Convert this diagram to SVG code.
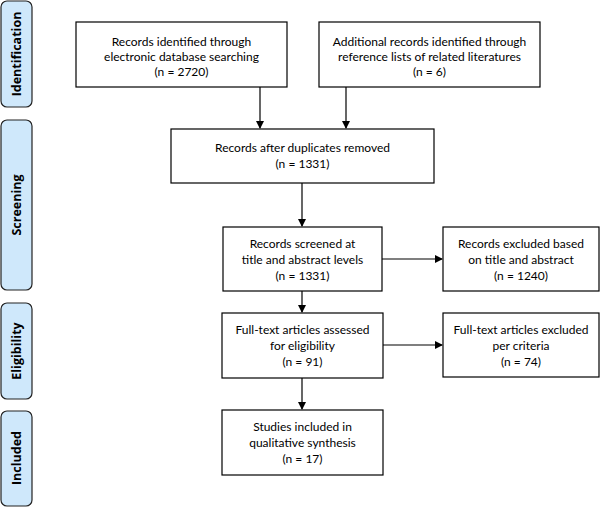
<svg xmlns="http://www.w3.org/2000/svg" width="601" height="507" viewBox="0 0 601 507">
<defs>
<marker id="ah" markerWidth="8" markerHeight="8" refX="7" refY="4" orient="auto" markerUnits="userSpaceOnUse">
<path d="M0,0 L8,4 L0,8 Z" fill="#000"/>
</marker>
<style>
.box{fill:#fff;stroke:#000;stroke-width:1.2}
.side{fill:#cfe8fb;stroke:#222;stroke-width:1.2}
.t{font-family:Lato,"Open Sans",sans-serif;font-size:12px;text-anchor:middle;fill:#000}
.s{font-family:"Open Sans","Noto Sans",sans-serif;font-size:12.5px;font-weight:bold;text-anchor:middle;fill:#000}
.c{stroke:#000;stroke-width:1.2;fill:none;marker-end:url(#ah)}
</style>
</defs>
<rect width="601" height="507" fill="#fff"/>
<g id="stage-identification"><rect class="side" x="1" y="1" width="31" height="106" rx="6"/><text class="s" transform="translate(21,54) rotate(-90)">Identification</text></g>
<g id="stage-screening"><rect class="side" x="1" y="120" width="31" height="170" rx="6"/><text class="s" transform="translate(21,205) rotate(-90)">Screening</text></g>
<g id="stage-eligibility"><rect class="side" x="1" y="303" width="31" height="96" rx="6"/><text class="s" transform="translate(21,351) rotate(-90)">Eligibility</text></g>
<g id="stage-included"><rect class="side" x="1" y="411" width="31" height="95" rx="6"/><text class="s" transform="translate(21,458) rotate(-90)">Included</text></g>
<g id="n1"><rect class="box" x="76" y="22" width="211" height="65"/><text class="t" x="181.5" y="46">Records identified through</text><text class="t" x="181.5" y="61">electronic database searching</text><text class="t" x="181.5" y="76">(n = 2720)</text></g>
<g id="n2"><rect class="box" x="319" y="22" width="221" height="65"/><text class="t" x="429.5" y="46">Additional records identified through</text><text class="t" x="429.5" y="61">reference lists of related literatures</text><text class="t" x="429.5" y="76">(n = 6)</text></g>
<g id="n3"><rect class="box" x="171" y="129" width="263" height="54"/><text class="t" x="302.5" y="152">Records after duplicates removed</text><text class="t" x="302.5" y="168">(n = 1331)</text></g>
<g id="n4"><rect class="box" x="223" y="227" width="159" height="64"/><text class="t" x="302.5" y="248">Records screened at</text><text class="t" x="302.5" y="264">title and abstract levels</text><text class="t" x="302.5" y="280">(n = 1331)</text></g>
<g id="n5"><rect class="box" x="443" y="227" width="156" height="64"/><text class="t" x="521" y="248">Records excluded based</text><text class="t" x="521" y="264">on title and abstract</text><text class="t" x="521" y="280">(n = 1240)</text></g>
<g id="n6"><rect class="box" x="222" y="313" width="161" height="65"/><text class="t" x="302.5" y="334">Full-text articles assessed</text><text class="t" x="302.5" y="350">for eligibility</text><text class="t" x="302.5" y="366">(n = 91)</text></g>
<g id="n7"><rect class="box" x="443" y="313" width="156" height="64"/><text class="t" x="521" y="334">Full-text articles excluded</text><text class="t" x="521" y="350">per criteria</text><text class="t" x="521" y="366">(n = 74)</text></g>
<g id="n8"><rect class="box" x="222" y="410" width="161" height="65"/><text class="t" x="302.5" y="431">Studies included in</text><text class="t" x="302.5" y="447">qualitative synthesis</text><text class="t" x="302.5" y="463">(n = 17)</text></g>
<g id="connectors">
<line class="c" x1="260" y1="87" x2="260" y2="128"/>
<line class="c" x1="346" y1="87" x2="346" y2="128"/>
<line class="c" x1="302" y1="183" x2="302" y2="226"/>
<line class="c" x1="382" y1="259" x2="442" y2="259"/>
<line class="c" x1="302" y1="291" x2="302" y2="312"/>
<line class="c" x1="383" y1="345" x2="442" y2="345"/>
<line class="c" x1="302" y1="378" x2="302" y2="409"/>
</g>
</svg>
